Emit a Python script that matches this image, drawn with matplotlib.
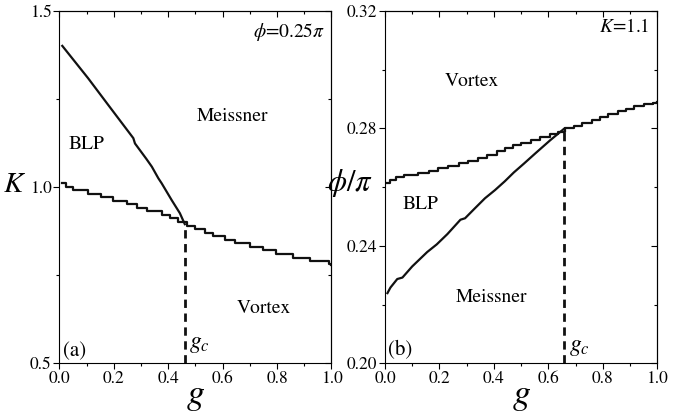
import matplotlib
matplotlib.use("Agg")
import matplotlib.pyplot as plt
from matplotlib.ticker import MultipleLocator, FormatStrFormatter

plt.rcParams['font.family'] = ['STIXGeneral', 'DejaVu Serif']
plt.rcParams['mathtext.fontset'] = 'stix'

# ---- Panel (a): phi = 0.25 pi ----
g_a_upper = [0.011, 0.106, 0.18, 0.272, 0.278, 0.32, 0.34, 0.364, 0.376, 0.413, 0.443, 0.461]
K_a_upper = [1.401, 1.309, 1.233, 1.139, 1.124, 1.08, 1.058, 1.025, 1.011, 0.963, 0.926, 0.895]

g_a_lower = [0.011, 0.025, 0.05, 0.105, 0.155, 0.198, 0.247, 0.284, 0.321, 0.376, 0.406, 0.437,
             0.468, 0.498, 0.535, 0.565, 0.608, 0.645, 0.700, 0.749, 0.798, 0.859, 0.920, 0.99, 1.0]
K_a_lower = [1.011, 1.000, 0.992, 0.981, 0.971, 0.961, 0.951, 0.942, 0.931, 0.921, 0.912, 0.902,
             0.890, 0.881, 0.871, 0.861, 0.851, 0.841, 0.830, 0.822, 0.810, 0.800, 0.790, 0.783, 0.779]
gc_a = 0.461
Kc_a = 0.895

# ---- Panel (b): K = 1.1 ----
g_b_upper = [0.009, 0.02, 0.04, 0.07, 0.12, 0.16, 0.195, 0.23, 0.27, 0.305, 0.34, 0.375, 0.41,
             0.44, 0.47, 0.50, 0.535, 0.57, 0.605, 0.635, 0.66, 0.695, 0.725, 0.76, 0.79, 0.82,
             0.855, 0.885, 0.915, 0.95, 0.985, 1.0]
p_b_upper = [0.2615, 0.2626, 0.2634, 0.2641, 0.2648, 0.2656, 0.2664, 0.2673, 0.2681, 0.2690,
             0.2699, 0.2708, 0.2722, 0.2733, 0.2743, 0.2752, 0.2762, 0.2771, 0.2780, 0.2789,
             0.2800, 0.2808, 0.2817, 0.2829, 0.2840, 0.2849, 0.2858, 0.2866, 0.2875, 0.2883,
             0.2888, 0.2891]

g_b_lower = [0.009, 0.02, 0.045, 0.064, 0.10, 0.155, 0.19, 0.229, 0.277, 0.294, 0.327, 0.367,
             0.404, 0.44, 0.473, 0.51, 0.552, 0.607, 0.659]
p_b_lower = [0.2239, 0.2258, 0.2287, 0.2292, 0.2330, 0.2379, 0.2405, 0.2440, 0.2489, 0.2494,
             0.2525, 0.2562, 0.2590, 0.2620, 0.2650, 0.2680, 0.2715, 0.2760, 0.2800]
gc_b = 0.659
pc_b = 0.280

fig = plt.figure(figsize=(6.88, 4.18), dpi=100)
axA = fig.add_axes([0.0862, 0.1309, 0.3956, 0.8428])
axB = fig.add_axes([0.5596, 0.1309, 0.3958, 0.8428])

LW = 1.6
TICK = 12.5
INK = '#111111'

def style(ax, ymaj, ymin):
    ax.set_xlim(0, 1.0)
    ax.xaxis.set_major_locator(MultipleLocator(0.2))
    ax.xaxis.set_minor_locator(MultipleLocator(0.1))
    ax.yaxis.set_major_locator(MultipleLocator(ymaj))
    ax.yaxis.set_minor_locator(MultipleLocator(ymin))
    ax.xaxis.set_major_formatter(FormatStrFormatter('%.1f'))
    ax.tick_params(which='both', direction='out', labelsize=TICK, width=0.8, pad=1.5)
    ax.tick_params(which='major', length=4)
    ax.tick_params(which='minor', length=2.5)
    for s in ax.spines.values():
        s.set_linewidth(0.8)
    top = ax.secondary_xaxis('top')
    top.xaxis.set_major_locator(MultipleLocator(0.2))
    top.xaxis.set_minor_locator(MultipleLocator(0.1))
    top.tick_params(which='both', direction='in', labeltop=False, width=0.8)
    top.tick_params(which='major', length=4)
    top.tick_params(which='minor', length=2.5)
    right = ax.secondary_yaxis('right')
    right.yaxis.set_major_locator(MultipleLocator(ymaj))
    right.yaxis.set_minor_locator(MultipleLocator(ymin))
    right.tick_params(which='both', direction='in', labelright=False, width=0.8)
    right.tick_params(which='major', length=4)
    right.tick_params(which='minor', length=2.5)
    ax.set_xlabel(r'$g$', fontsize=26, labelpad=-5)

# Panel (a)
axA.plot(g_a_upper, K_a_upper, color=INK, lw=LW)
axA.plot(g_a_lower, K_a_lower, color=INK, lw=LW, drawstyle='steps-post')
axA.plot([gc_a, gc_a], [0.5, Kc_a], color=INK, lw=2.0, ls=(0, (3, 2)))
axA.set_ylim(0.5, 1.5)
style(axA, 0.5, 0.25)
axA.yaxis.set_major_formatter(FormatStrFormatter('%.1f'))
axA.set_ylabel(r'$K$', fontsize=21, rotation=0, ha='center', va='center')
axA.yaxis.set_label_coords(-0.165, 0.506)
axA.text(0.635, 1.2, 'Meissner', fontsize=14, ha='center', va='center')
axA.text(0.1, 1.12, 'BLP', fontsize=14, ha='center', va='center')
axA.text(0.75, 0.655, 'Vortex', fontsize=14, ha='center', va='center')
axA.text(0.012, 0.535, '(a)', fontsize=15, ha='left', va='center')
axA.text(gc_a + 0.015, 0.555, r'$g_c$', fontsize=17, ha='left', va='center')
axA.text(0.975, 1.44, r'$\phi$=0.25$\pi$', fontsize=14, ha='right', va='center')

# Panel (b)
axB.plot(g_b_upper, p_b_upper, color=INK, lw=LW, drawstyle='steps-post')
axB.plot(g_b_lower, p_b_lower, color=INK, lw=LW)
axB.plot([gc_b, gc_b], [0.20, pc_b], color=INK, lw=2.0, ls=(0, (3, 2)))
axB.set_ylim(0.20, 0.32)
style(axB, 0.04, 0.02)
axB.yaxis.set_major_formatter(FormatStrFormatter('%.2f'))
axB.set_ylabel(r'$\phi/\pi$', fontsize=22, rotation=0, ha='center', va='center')
axB.yaxis.set_label_coords(-0.13, 0.512)
axB.text(0.32, 0.296, 'Vortex', fontsize=14, ha='center', va='center')
axB.text(0.13, 0.2542, 'BLP', fontsize=14, ha='center', va='center')
axB.text(0.39, 0.2225, 'Meissner', fontsize=14, ha='center', va='center')
axB.text(0.012, 0.2045, '(b)', fontsize=15, ha='left', va='center')
axB.text(gc_b + 0.015, 0.2055, r'$g_c$', fontsize=17, ha='left', va='center')
axB.text(0.97, 0.3145, r'$K$=1.1', fontsize=14, ha='right', va='center')

fig.savefig('out.png', dpi=100)
